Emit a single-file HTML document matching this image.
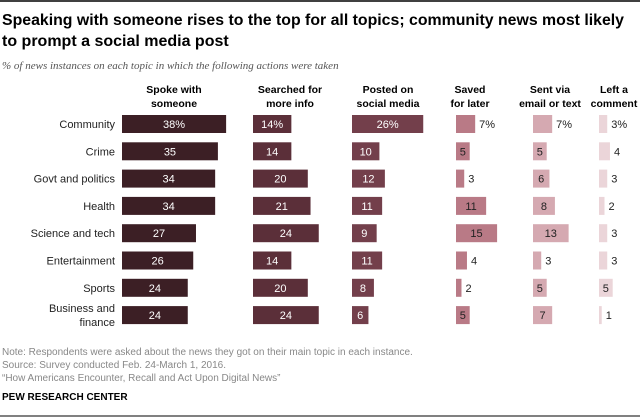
<!DOCTYPE html>
<html><head><meta charset="utf-8"><style>
body{margin:0;background:#fff;}
svg{display:block;font-family:"Liberation Sans",sans-serif;}
</style></head><body>
<svg width="640" height="418" viewBox="0 0 640 418">
<line x1="0" y1="1" x2="640" y2="1" stroke="#000" stroke-width="1.5"/>
<text x="2" y="25" font-size="16" font-weight="bold" fill="#000" textLength="622" lengthAdjust="spacingAndGlyphs">Speaking with someone rises to the top for all topics; community news most likely</text>
<text x="2" y="46" font-size="16" font-weight="bold" fill="#000">to prompt a social media post</text>
<text x="2" y="69" font-size="11" font-style="italic" fill="#555" font-family="Liberation Serif, serif">% of news instances on each topic in which the following actions were taken</text>
<g id="chart"></g>
<text x="2" y="355" font-size="10" fill="#888">Note: Respondents were asked about the news they got on their main topic in each instance.</text>
<text x="2" y="368" font-size="10" fill="#888">Source: Survey conducted Feb. 24-March 1, 2016.</text>
<text x="2" y="381" font-size="10" fill="#888">“How Americans Encounter, Recall and Act Upon Digital News”</text>
<text x="2" y="400" font-size="10" font-weight="bold" fill="#000">PEW RESEARCH CENTER</text>
<line x1="0" y1="416" x2="640" y2="416" stroke="#000" stroke-width="1"/>
</svg>
<script>
const categories=["Community","Crime","Govt and politics","Health","Science and tech","Entertainment","Sports","Business and finance"];
const seriesNames=[["Spoke with","someone"],["Searched for","more info"],["Posted on","social media"],["Saved","for later"],["Sent via","email or text"],["Left a","comment"]];
const spoke=[38,35,34,34,27,26,24,24];
const searched=[14,14,20,21,24,14,20,24];
const posted=[26,10,12,11,9,11,8,6];
const saved=[7,5,3,11,15,4,2,5];
const sent=[7,5,6,8,13,3,5,7];
const comment=[3,4,3,2,3,3,5,1];
const series=[spoke,searched,posted,saved,sent,comment];
const colStart=[122,253,352,456,533,599];
const headerCenter=[174,290,388,470,550,614];
const colors=["#3c1f25","#5b2f39","#733f4b","#b97a86","#d5a9b1","#ebd5d9"];
const insideText=["#fff","#fff","#fff","#222","#222","#222"];
const scale=2.74;
const xs=v=>v*scale;
const yc=i=>124+i*27.3;
const NS="http://www.w3.org/2000/svg";
const g=document.getElementById("chart");
function mk(t,a){const e=document.createElementNS(NS,t);for(const k in a)e.setAttribute(k,a[k]);g.appendChild(e);return e;}
seriesNames.forEach((n,c)=>{
  n.forEach((s,j)=>{
    const t=mk("text",{x:headerCenter[c],y:93+j*14,"font-size":10.5,"font-weight":"bold","text-anchor":"middle",fill:"#000"});
    t.textContent=s;
    
    
  });
});
categories.forEach((cat,i)=>{
  const y=yc(i);
  if(cat==="Business and finance"){
    ["Business and","finance"].forEach((s,j)=>{
      const t=mk("text",{x:115,y:y-3+j*14,"font-size":11,"text-anchor":"end",fill:"#222"});
      t.textContent=s;
      
      
    });
  } else {
    const t=mk("text",{x:115,y:y+4,"font-size":11,"text-anchor":"end",fill:"#222"});
    t.textContent=cat;
    
    
  }
  series.forEach((arr,c)=>{
    const v=arr[i];const w=xs(v);
    const r=mk("rect",{x:colStart[c],y:y-9,width:w,height:18,fill:colors[c]});
    
    
    const lab=i===0?v+"%":String(v);
    const inside=c<3||w>=lab.length*7+6;
    const t=mk("text",{x:inside?colStart[c]+w/2:colStart[c]+w+4,y:y+4,"font-size":11,"text-anchor":inside?"middle":"start",fill:inside?insideText[c]:"#222"});
    t.textContent=lab;
    
    
  });
});
</script>
</body></html>
